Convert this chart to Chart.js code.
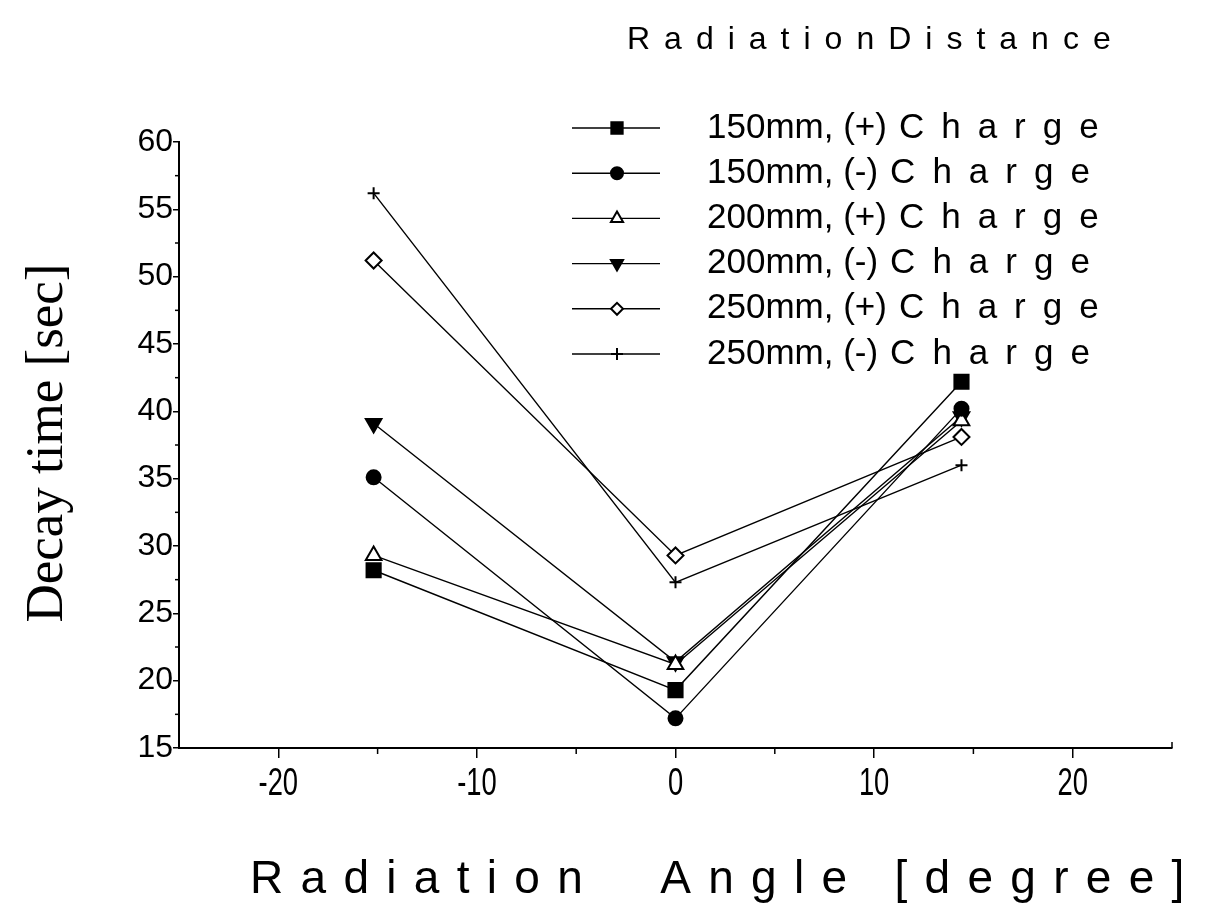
<!DOCTYPE html>
<html>
<head>
<meta charset="utf-8">
<title>Decay time vs Radiation Angle</title>
<script src="https://cdn.jsdelivr.net/npm/chart.js@4.4.1/dist/chart.umd.min.js"></script>
<style>
    html, body { margin: 0; padding: 0; background: #fff; }
    .chart-wrap { width: 1211px; height: 906px; }
</style>
</head>
<body>
<div class="chart-wrap"><canvas id="decayChart" width="1211" height="906"></canvas></div>
<script>
'use strict';

// =========================================================
// DATA
// =========================================================

const angles = [-15.2, 0, 14.4];

const decay150Plus = [28.2, 19.3, 42.2];
const decay150Minus = [35.1, 17.2, 40.2];
const decay200Plus = [29.3, 21.2, 39.3];
const decay200Minus = [39.1, 21.4, 39.6];
const decay250Plus = [51.2, 29.3, 38.1];
const decay250Minus = [56.2, 27.3, 36.0];

const seriesPrefixes = ['150mm, (+)', '150mm, (-)', '200mm, (+)', '200mm, (-)', '250mm, (+)', '250mm, (-)'];
const seriesSuffix = 'Charge';

const xTickValues = [-20, -10, 0, 10, 20];
const yTickValues = [15, 20, 25, 30, 35, 40, 45, 50, 55, 60];

const legendTitle = 'RadiationDistance';
const xTitle = 'Radiation  Angle [degree]';
const yTitle = 'Decay time [sec]';


// =========================================================
// STYLE
// =========================================================

const INK = '#000';
const PAPER = '#fff';

const markerStyles = [
    { pointStyle: 'rect', radius: 10, legendRadius: 8, rotation: 0, filled: true },
    { pointStyle: 'circle', radius: 7, legendRadius: 6, rotation: 0, filled: true },
    { pointStyle: 'triangle', radius: 9, legendRadius: 7, rotation: 0, filled: false },
    { pointStyle: 'triangle', radius: 9, legendRadius: 7, rotation: 180, filled: true },
    { pointStyle: 'rectRot', radius: 8, legendRadius: 6, rotation: 0, filled: false },
    { pointStyle: 'cross', radius: 6, legendRadius: 6, rotation: 0, filled: false },
];

const seriesValues = [decay150Plus, decay150Minus, decay200Plus, decay200Minus, decay250Plus, decay250Minus];


// =========================================================
// HELPERS
// =========================================================

// canvas letterSpacing is not everywhere, so space the letters by hand
const drawSpacedText = (ctx, text, x, y, spacing) => {
    let cursor = x;

    for (const char of text) {
        ctx.fillText(char, cursor, y);
        cursor += ctx.measureText(char).width + spacing;
    }

    return cursor;
};

const makeDataset = (values, index) => {
    const marker = markerStyles[index];

    return {
        label: `${seriesPrefixes[index]} ${seriesSuffix}`,
        data: values.map((value, i) => ({ x: angles[i], y: value })),
        borderColor: INK,
        borderWidth: 1.4,
        pointStyle: marker.pointStyle,
        pointRadius: marker.radius,
        pointRotation: marker.rotation,
        pointBackgroundColor: marker.filled ? INK : PAPER,
        pointBorderColor: INK,
        pointBorderWidth: 2,
        tension: 0,
        fill: false,
    };
};


// =========================================================
// PLUGIN: minor ticks, x tick labels, titles, legend
// =========================================================

const decorPlugin = {
    id: 'decor',

    afterDraw: (chart) => {
        const ctx = chart.ctx;
        const xScale = chart.scales.x;
        const yScale = chart.scales.y;
        const area = chart.chartArea;

        ctx.save();
        ctx.strokeStyle = INK;
        ctx.lineWidth = 1.5;

        // minor ticks on the y axis
        for (let value = 17.5; value < 60; value += 5) {
            const py = yScale.getPixelForValue(value);
            ctx.beginPath();
            ctx.moveTo(area.left, py);
            ctx.lineTo(area.left - 4, py);
            ctx.stroke();
        }

        // minor ticks on the x axis
        for (let value = -15; value <= 15; value += 10) {
            const px = xScale.getPixelForValue(value);
            ctx.beginPath();
            ctx.moveTo(px, area.bottom);
            ctx.lineTo(px, area.bottom + 6);
            ctx.stroke();
        }

        // small end tick on the right of the x axis
        ctx.beginPath();
        ctx.moveTo(area.right, area.bottom);
        ctx.lineTo(area.right, area.bottom - 6);
        ctx.stroke();

        ctx.fillStyle = INK;
        ctx.textBaseline = 'middle';

        // x tick labels in a narrow face (squeezed sans)
        ctx.font = '38px "Liberation Sans", Arial, sans-serif';
        ctx.textAlign = 'center';
        xTickValues.forEach((value) => {
            const px = xScale.getPixelForValue(value);
            ctx.save();
            ctx.translate(px, 785);
            ctx.scale(0.72, 1);
            ctx.fillText(String(value), 0, 0);
            ctx.restore();
        });

        ctx.textAlign = 'left';

        // x axis title
        ctx.font = '46px "Liberation Sans", Arial, sans-serif';
        drawSpacedText(ctx, xTitle, 250, 880, 17.3);

        // y axis title, rotated
        ctx.save();
        ctx.translate(48, 443);
        ctx.rotate(-Math.PI / 2);
        ctx.textAlign = 'center';
        ctx.font = '53px "Liberation Serif", "Times New Roman", serif';
        ctx.fillText(yTitle, 0, 0);
        ctx.restore();

        // legend title
        ctx.font = '32px "Liberation Sans", Arial, sans-serif';
        drawSpacedText(ctx, legendTitle, 627, 40, 14);

        // legend rows
        const rowTop = 128;
        const rowGap = 45.2;

        seriesPrefixes.forEach((prefix, index) => {
            const marker = markerStyles[index];
            const rowY = rowTop + index * rowGap;

            ctx.lineWidth = 1.4;
            ctx.beginPath();
            ctx.moveTo(572, rowY);
            ctx.lineTo(660, rowY);
            ctx.stroke();

            ctx.fillStyle = marker.filled ? INK : PAPER;
            ctx.strokeStyle = INK;
            ctx.lineWidth = 2;
            Chart.helpers.drawPoint(ctx, {
                pointStyle: marker.pointStyle,
                radius: marker.legendRadius,
                rotation: marker.rotation,
                borderWidth: 2,
            }, 617, rowY);

            ctx.fillStyle = INK;
            ctx.font = '35px "Liberation Sans", Arial, sans-serif';
            ctx.fillText(prefix, 707, rowY);
            const prefixEnd = 707 + ctx.measureText(prefix).width;
            drawSpacedText(ctx, seriesSuffix, prefixEnd + 12, rowY, 17);
        });

        ctx.restore();
    },
};


// =========================================================
// CHART
// =========================================================

const renderChart = () => {
    const canvas = document.querySelector('#decayChart');

    new Chart(canvas, {
        type: 'line',
        data: {
            datasets: seriesValues.map(makeDataset),
        },
        options: {
            responsive: false,
            animation: false,
            events: [],

            layout: {
                padding: { top: 142, right: 39, left: 0, bottom: 0 },
            },

            plugins: {
                legend: { display: false },
                tooltip: { enabled: false },
            },

            scales: {
                x: {
                    type: 'linear',
                    min: -25,
                    max: 25,
                    afterBuildTicks: (scale) => {
                        scale.ticks = xTickValues.map((value) => ({ value }));
                    },
                    afterFit: (scale) => {
                        scale.height = 158;
                    },
                    grid: {
                        drawOnChartArea: false,
                        drawTicks: true,
                        tickLength: 10,
                        color: INK,
                        lineWidth: 1.5,
                    },
                    border: { display: true, color: INK, width: 2 },
                    ticks: {
                        // labels are drawn narrow by the decor plugin
                        display: false,
                    },
                },
                y: {
                    type: 'linear',
                    min: 15,
                    max: 60,
                    afterBuildTicks: (scale) => {
                        scale.ticks = yTickValues.map((value) => ({ value }));
                    },
                    afterFit: (scale) => {
                        scale.width = 179;
                    },
                    grid: {
                        drawOnChartArea: false,
                        drawTicks: true,
                        tickLength: 6,
                        color: INK,
                        lineWidth: 1.5,
                    },
                    border: { display: true, color: INK, width: 2 },
                    ticks: {
                        color: INK,
                        padding: 0,
                        font: { family: '"Liberation Sans", Arial, sans-serif', size: 32 },
                    },
                },
            },
        },
        plugins: [decorPlugin],
    });
};

document.addEventListener('DOMContentLoaded', renderChart);
</script>
</body>
</html>
